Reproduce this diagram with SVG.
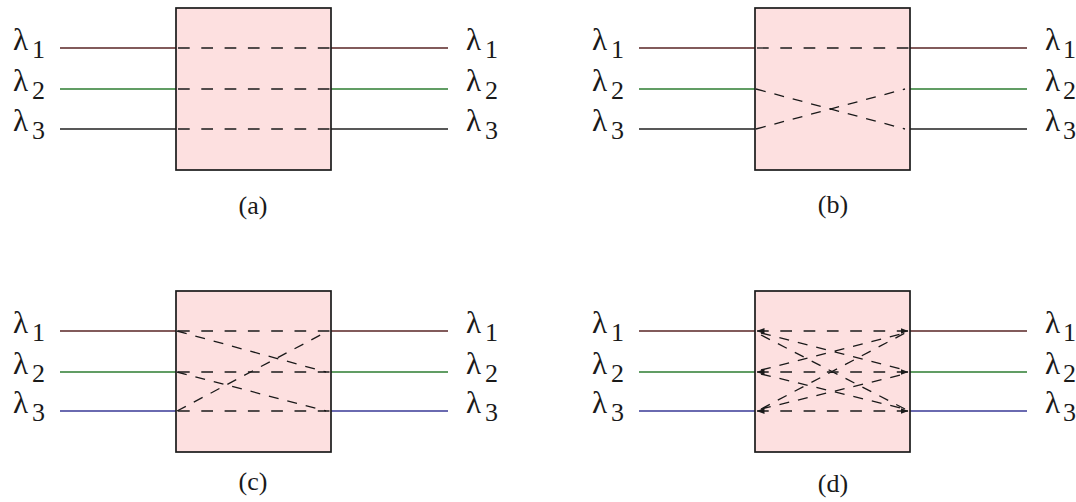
<svg xmlns="http://www.w3.org/2000/svg" width="1076" height="502" viewBox="0 0 1076 502">
  <style>
    .box { fill: #fde0e0; stroke: #1a1a1a; stroke-width: 1.7; }
    .w1 { stroke: #5a2626; stroke-width: 1.4; fill: none; }
    .w2 { stroke: #2e7d32; stroke-width: 1.4; fill: none; }
    .w3 { stroke: #222222; stroke-width: 1.4; fill: none; }
    .w3b { stroke: #3a3a96; stroke-width: 1.4; fill: none; }
    .dash { stroke: #1a1a1a; stroke-width: 1.3; fill: none; stroke-dasharray: 11.7 11.6; }
    .ddash { stroke: #1a1a1a; stroke-width: 1.3; fill: none; stroke-dasharray: 10 9; }
    text { font-family: "Liberation Serif", "DejaVu Serif", "Times New Roman", serif; fill: #1a1a1a; }
    .lam { font-size: 31px; }
    .sub { font-size: 26px; }
    .cap { font-size: 26px; text-anchor: middle; }
  </style>
  <defs>
    <marker id="tip" viewBox="0 0 8 6" refX="7.5" refY="3" markerWidth="8" markerHeight="6" markerUnits="userSpaceOnUse" orient="auto-start-reverse">
      <path d="M0,0 L8,3 L0,6 Z" fill="#1a1a1a"/>
    </marker>
  </defs>

  <!-- (a) straight-through: each wavelength keeps its port -->
  <g id="panel-a">
    <g id="a-wires">
      <path class="w1" d="M60,48 H176 M331,48 H448"/>
      <path class="w2" d="M60,89 H176 M331,89 H448"/>
      <path class="w3" d="M60,129 H176 M331,129 H448"/>
    </g>
    <rect id="a-box" class="box" x="176" y="8" width="155" height="162"/>
    <g id="a-paths">
      <path class="dash" d="M178,48 H331 M178,89 H331 M178,129 H331"/>
    </g>
    <g id="a-labels">
      <text class="lam" x="13" y="50">λ<tspan class="sub" x="32" y="58">1</tspan></text>
      <text class="lam" x="13" y="91">λ<tspan class="sub" x="32" y="99">2</tspan></text>
      <text class="lam" x="13" y="131">λ<tspan class="sub" x="32" y="139">3</tspan></text>
      <text class="lam" x="466" y="50">λ<tspan class="sub" x="485" y="58">1</tspan></text>
      <text class="lam" x="466" y="91">λ<tspan class="sub" x="485" y="99">2</tspan></text>
      <text class="lam" x="466" y="131">λ<tspan class="sub" x="485" y="139">3</tspan></text>
      <text class="cap" x="253" y="214">(a)</text>
    </g>
  </g>

  <!-- (b) λ2 and λ3 swapped -->
  <g id="panel-b" transform="translate(579,0)">
    <g id="b-wires">
      <path class="w1" d="M60,48 H176 M331,48 H448"/>
      <path class="w2" d="M60,89 H176 M331,89 H448"/>
      <path class="w3" d="M60,129 H176 M331,129 H448"/>
    </g>
    <rect id="b-box" class="box" x="176" y="8" width="155" height="162"/>
    <g id="b-paths">
      <path class="dash" d="M178,48 H331"/>
      <path class="ddash" d="M177,89 L326,129 M177,129 L326,89"/>
    </g>
    <g id="b-labels">
      <text class="lam" x="13" y="50">λ<tspan class="sub" x="32" y="58">1</tspan></text>
      <text class="lam" x="13" y="91">λ<tspan class="sub" x="32" y="99">2</tspan></text>
      <text class="lam" x="13" y="131">λ<tspan class="sub" x="32" y="139">3</tspan></text>
      <text class="lam" x="466" y="50">λ<tspan class="sub" x="484" y="58">1</tspan></text>
      <text class="lam" x="466" y="91">λ<tspan class="sub" x="484" y="99">2</tspan></text>
      <text class="lam" x="466" y="131">λ<tspan class="sub" x="484" y="139">3</tspan></text>
      <text class="cap" x="254" y="213">(b)</text>
    </g>
  </g>

  <!-- (c) straight paths plus a cyclic shift -->
  <g id="panel-c" transform="translate(0,283)">
    <g id="c-wires">
      <path class="w1" d="M60,48 H176 M331,48 H448"/>
      <path class="w2" d="M60,89 H176 M331,89 H448"/>
      <path class="w3b" d="M60,128 H176 M331,128 H448"/>
    </g>
    <rect id="c-box" class="box" x="176" y="8" width="155" height="161"/>
    <g id="c-paths">
      <path class="dash" d="M178,48 H331 M178,89 H331 M178,128 H331"/>
      <path class="ddash" d="M177,48 L326,89 M177,89 L326,128 M177,128 L328,48"/>
    </g>
    <g id="c-labels">
      <text class="lam" x="13" y="50">λ<tspan class="sub" x="32" y="58">1</tspan></text>
      <text class="lam" x="13" y="91">λ<tspan class="sub" x="32" y="99">2</tspan></text>
      <text class="lam" x="13" y="130">λ<tspan class="sub" x="32" y="138">3</tspan></text>
      <text class="lam" x="466" y="50">λ<tspan class="sub" x="485" y="58">1</tspan></text>
      <text class="lam" x="466" y="91">λ<tspan class="sub" x="485" y="99">2</tspan></text>
      <text class="lam" x="466" y="130">λ<tspan class="sub" x="485" y="138">3</tspan></text>
      <text class="cap" x="253" y="207">(c)</text>
    </g>
  </g>

  <!-- (d) full interconnection: every input to every output -->
  <g id="panel-d" transform="translate(579,283)">
    <g id="d-wires">
      <path class="w1" d="M60,48 H176 M331,48 H448"/>
      <path class="w2" d="M60,89 H176 M331,89 H448"/>
      <path class="w3b" d="M60,128 H176 M331,128 H448"/>
    </g>
    <rect id="d-box" class="box" x="176" y="8" width="155" height="161"/>
    <g id="d-paths">
      <path class="dash" d="M178,48 H329" marker-start="url(#tip)" marker-end="url(#tip)"/>
      <path class="dash" d="M178,89 H329" marker-start="url(#tip)" marker-end="url(#tip)"/>
      <path class="dash" d="M178,128 H329" marker-start="url(#tip)" marker-end="url(#tip)"/>
      <path class="ddash" d="M182,50 L326,87 M182,52 L326,126 M182,87 L326,50 M182,91 L326,126 M182,126 L326,50 M182,126 L326,91"/>
    </g>
    <g id="d-labels">
      <text class="lam" x="13" y="50">λ<tspan class="sub" x="32" y="58">1</tspan></text>
      <text class="lam" x="13" y="91">λ<tspan class="sub" x="32" y="99">2</tspan></text>
      <text class="lam" x="13" y="130">λ<tspan class="sub" x="32" y="138">3</tspan></text>
      <text class="lam" x="466" y="50">λ<tspan class="sub" x="484" y="58">1</tspan></text>
      <text class="lam" x="466" y="91">λ<tspan class="sub" x="484" y="99">2</tspan></text>
      <text class="lam" x="466" y="130">λ<tspan class="sub" x="484" y="138">3</tspan></text>
      <text class="cap" x="254" y="209">(d)</text>
    </g>
  </g>
</svg>
